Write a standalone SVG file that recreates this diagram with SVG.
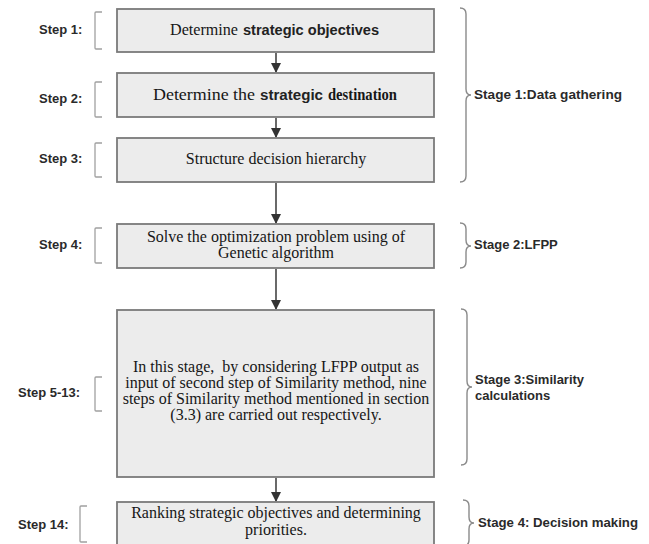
<svg xmlns="http://www.w3.org/2000/svg" width="649" height="544" viewBox="0 0 649 544">
<style>
.box{fill:#ececec;stroke:#7a7a7a;stroke-width:1.8}
.bt{font-family:"Liberation Serif","Times New Roman",serif;font-size:16px;fill:#161616}
.bs{font-family:"Liberation Sans",Arial,sans-serif;font-size:14px;font-weight:bold;fill:#222}
.step{font-family:"Liberation Sans",Arial,sans-serif;font-size:13px;font-weight:bold;fill:#2a2a2a}
.stage{font-family:"Liberation Sans",Arial,sans-serif;font-size:13px;font-weight:bold;fill:#2a2a2a}
.brk{fill:none;stroke:#a0a0a0;stroke-width:1.3}
.brace{fill:none;stroke:#8a8a8a;stroke-width:1.4}
.conn{stroke:#444;stroke-width:1.6;fill:none}
</style>
<defs>
<marker id="ah" markerWidth="10" markerHeight="10" refX="9" refY="5" orient="auto" markerUnits="userSpaceOnUse">
<path d="M0,0 L10,5 L0,10 Z" fill="#333"/>
</marker>
</defs>
<rect width="649" height="544" fill="#fff"/>

<g id="connectors">
<line class="conn" x1="276" y1="53" x2="276" y2="72" marker-end="url(#ah)"/>
<line class="conn" x1="276" y1="118" x2="276" y2="137" marker-end="url(#ah)"/>
<line class="conn" x1="276" y1="183" x2="276" y2="223" marker-end="url(#ah)"/>
<line class="conn" x1="276" y1="269" x2="276" y2="309" marker-end="url(#ah)"/>
<line class="conn" x1="276" y1="478" x2="276" y2="501" marker-end="url(#ah)"/>
</g>

<g id="step1">
<text class="step" x="39" y="34">Step 1:</text>
<path class="brk" d="M102,12 H96 Q95,12 95,13 V48 Q95,49 96,49 H102"/>
<rect class="box" x="117" y="9" width="317" height="43"/>
<text class="bt" y="35"><tspan x="170" textLength="68" lengthAdjust="spacingAndGlyphs">Determine</tspan><tspan class="bs" x="243" textLength="136" lengthAdjust="spacingAndGlyphs">strategic objectives</tspan></text>
</g>

<g id="step2">
<text class="step" x="39" y="103">Step 2:</text>
<path class="brk" d="M102,82 H96 Q95,82 95,83 V116 Q95,117 96,117 H102"/>
<rect class="box" x="117" y="73" width="317" height="44"/>
<text class="bt" y="100"><tspan x="153" textLength="102" lengthAdjust="spacingAndGlyphs">Determine the</tspan><tspan class="bs" x="260" textLength="63" lengthAdjust="spacingAndGlyphs">strategic</tspan><tspan x="328" font-weight="bold" font-size="16" textLength="69" lengthAdjust="spacingAndGlyphs">destination</tspan></text>
</g>

<g id="step3">
<text class="step" x="39" y="163">Step 3:</text>
<path class="brk" d="M102,143 H96 Q95,143 95,144 V176 Q95,177 96,177 H102"/>
<rect class="box" x="117" y="138" width="317" height="44"/>
<text class="bt" x="276" y="164" text-anchor="middle">Structure decision hierarchy</text>
</g>

<g id="step4">
<text class="step" x="39" y="249">Step 4:</text>
<path class="brk" d="M102,228 H96 Q95,228 95,229 V262 Q95,263 96,263 H102"/>
<rect class="box" x="117" y="224" width="317" height="44"/>
<text class="bt" x="276" y="242" text-anchor="middle">Solve the optimization problem using of</text>
<text class="bt" x="276" y="258" text-anchor="middle">Genetic algorithm</text>
</g>

<g id="step5-13">
<text class="step" x="18" y="397">Step 5-13:</text>
<path class="brk" d="M102,377 H96 Q95,377 95,378 V410 Q95,411 96,411 H102"/>
<rect class="box" x="117" y="310" width="317" height="167"/>
<text class="bt" x="276" y="372" text-anchor="middle">In this stage, &#160;by considering LFPP output as</text>
<text class="bt" x="276" y="388" text-anchor="middle">input of second step of Similarity method, nine</text>
<text class="bt" x="276" y="404" text-anchor="middle">steps of Similarity method mentioned in section</text>
<text class="bt" x="276" y="420" text-anchor="middle">(3.3) are carried out respectively.</text>
</g>

<g id="step14">
<text class="step" x="18" y="529">Step 14:</text>
<path class="brk" d="M87,506 H81 Q80,506 80,507 V541 Q80,542 81,542 H87"/>
<rect class="box" x="117" y="502" width="317" height="50"/>
<text class="bt" x="276" y="518" text-anchor="middle">Ranking strategic objectives and determining</text>
<text class="bt" x="276" y="535" text-anchor="middle">priorities.</text>
</g>

<g id="stage1">
<path class="brace" d="M460,8 Q466,8 466,14 V89 Q466,95 471,95 Q466,95 466,101 V176 Q466,182 460,182"/>
<text class="stage" x="474" y="99" textLength="148" lengthAdjust="spacingAndGlyphs">Stage 1:Data gathering</text>
</g>

<g id="stage2">
<path class="brace" d="M460,223 Q466,223 466,229 V240 Q466,246 471,246 Q466,246 466,252 V262 Q466,268 460,268"/>
<text class="stage" x="474" y="249">Stage 2:LFPP</text>
</g>

<g id="stage3">
<path class="brace" d="M461,309 Q467,309 467,315 V381 Q467,387 472,387 Q467,387 467,393 V459 Q467,465 461,465"/>
<text class="stage" x="475" y="384">Stage 3:Similarity</text>
<text class="stage" x="475" y="400">calculations</text>
</g>

<g id="stage4">
<path class="brace" d="M463,500 Q469,500 469,506 V517 Q469,523 474,523 Q469,523 469,529 V540 Q469,546 463,546"/>
<text class="stage" x="478" y="527" textLength="160" lengthAdjust="spacingAndGlyphs">Stage 4: Decision making</text>
</g>
</svg>
